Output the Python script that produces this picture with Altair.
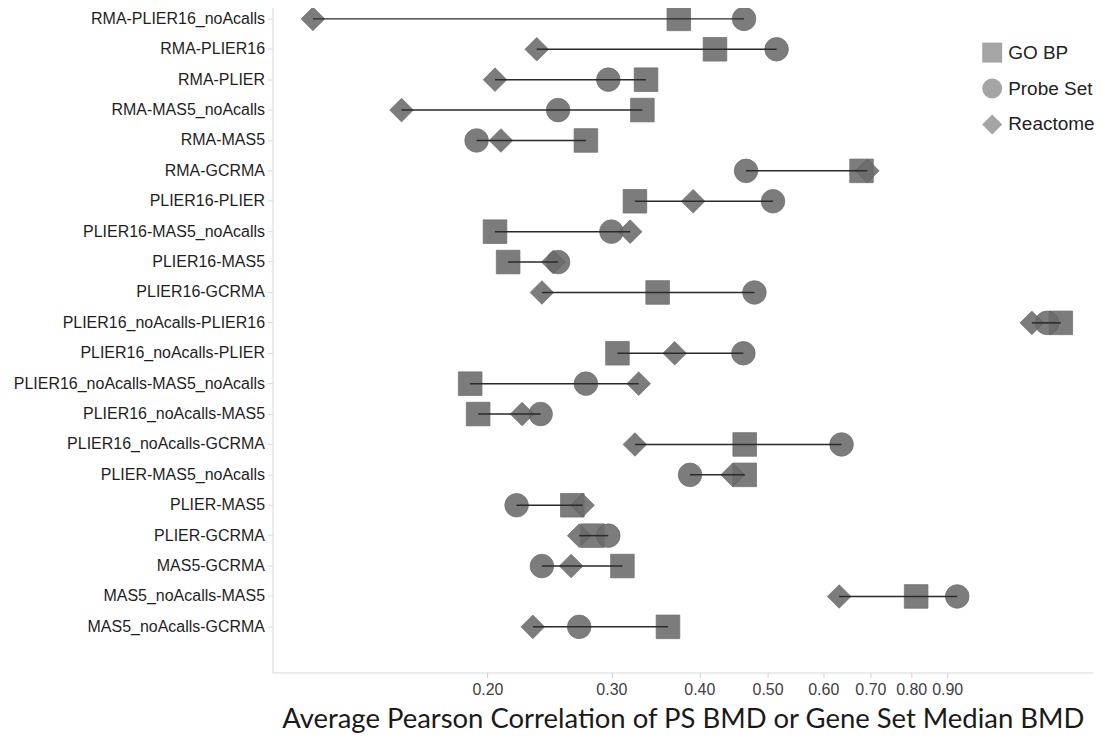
import altair as alt
import pandas as pd

pairs = ["RMA-PLIER16_noAcalls", "RMA-PLIER16", "RMA-PLIER", "RMA-MAS5_noAcalls", "RMA-MAS5",
         "RMA-GCRMA", "PLIER16-PLIER", "PLIER16-MAS5_noAcalls", "PLIER16-MAS5", "PLIER16-GCRMA",
         "PLIER16_noAcalls-PLIER16", "PLIER16_noAcalls-PLIER", "PLIER16_noAcalls-MAS5_noAcalls",
         "PLIER16_noAcalls-MAS5", "PLIER16_noAcalls-GCRMA", "PLIER-MAS5_noAcalls", "PLIER-MAS5",
         "PLIER-GCRMA", "MAS5-GCRMA", "MAS5_noAcalls-MAS5", "MAS5_noAcalls-GCRMA"]

go_bp     = [0.374, 0.421, 0.336, 0.332, 0.276, 0.680, 0.324, 0.205, 0.214, 0.349, 1.305,
             0.306, 0.189, 0.194, 0.464, 0.464, 0.264, 0.282, 0.311, 0.813, 0.361]
probe_set = [0.463, 0.515, 0.297, 0.252, 0.193, 0.466, 0.509, 0.300, 0.252, 0.479, 1.247,
             0.462, 0.276, 0.238, 0.637, 0.388, 0.220, 0.297, 0.239, 0.930, 0.270]
reactome  = [0.113, 0.235, 0.205, 0.151, 0.209, 0.693, 0.392, 0.319, 0.248, 0.239, 1.187,
             0.369, 0.328, 0.224, 0.324, 0.446, 0.273, 0.270, 0.263, 0.632, 0.232]

series_names = ["GO BP", "Probe Set", "Reactome"]
series_shapes = ["square", "circle", "diamond"]
tick_values = [0.2, 0.3, 0.4, 0.5, 0.6, 0.7, 0.8, 0.9]
x_title = "Average Pearson Correlation of  PS BMD or Gene Set Median BMD"

rows = []
for name, vals in zip(series_names, [go_bp, probe_set, reactome]):
    for p, v in zip(pairs, vals):
        rows.append({"pair": p, "type": name, "value": v})
df = pd.DataFrame(rows)

y_domain = pairs + [" "]
xscale = alt.Scale(type="log", domain=[0.099, 1.45], nice=False, zero=False)
xaxis = alt.Axis(values=tick_values, format=".2f", title=x_title, grid=False,
                 labelFont="Liberation Sans", labelFontSize=16, labelColor="#404040",
                 tickColor="#d0d0d0", tickSize=5, labelPadding=4,
                 domainColor="#d9d9d9", titleFont="Lato", titleFontSize=27.5,
                 titleFontWeight="normal", titleColor="#1a1a1a", titlePadding=8)
yscale = alt.Scale(domain=y_domain)
yaxis = alt.Axis(values=pairs, title=None, grid=False, labelFont="Liberation Sans",
                 labelFontSize=16, labelColor="#1e1e1e", tickColor="#d9d9d9", tickSize=5,
                 labelPadding=3, domainColor="#d9d9d9", labelLimit=400)

points = alt.Chart(df).mark_point(
    filled=True, size=560, color="#6b6b6b", opacity=0.88,
    stroke="#5a5a5a", strokeWidth=1, strokeOpacity=0.7
).encode(
    x=alt.X("value:Q", scale=xscale, axis=xaxis),
    y=alt.Y("pair:N", scale=yscale, axis=yaxis),
    shape=alt.Shape("type:N",
                    scale=alt.Scale(domain=series_names, range=series_shapes),
                    legend=alt.Legend(title=None, orient="none", legendX=710, legendY=38,
                                      symbolSize=400, symbolOpacity=0.6,
                                      symbolStrokeColor="#7a7a7a", symbolStrokeWidth=1.5,
                                      labelFont="Liberation Sans", labelFontSize=19,
                                      labelColor="#222222", labelOffset=5, rowPadding=10,
                                      padding=0))
)

rules = alt.Chart(df).transform_aggregate(
    lo="min(value)", hi="max(value)", groupby=["pair"]
).mark_rule(color="#2a2a2a", strokeWidth=1.5).encode(
    x=alt.X("lo:Q", scale=xscale, axis=xaxis),
    x2="hi:Q",
    y=alt.Y("pair:N", scale=yscale, axis=yaxis),
)

chart = alt.layer(points, rules).properties(
    width=822, height=670,
    padding={"left": 5, "top": -5, "right": 0, "bottom": 0}
).configure_view(stroke=None)

chart.save("out.html", embed_options={"renderer": "svg", "actions": False})
